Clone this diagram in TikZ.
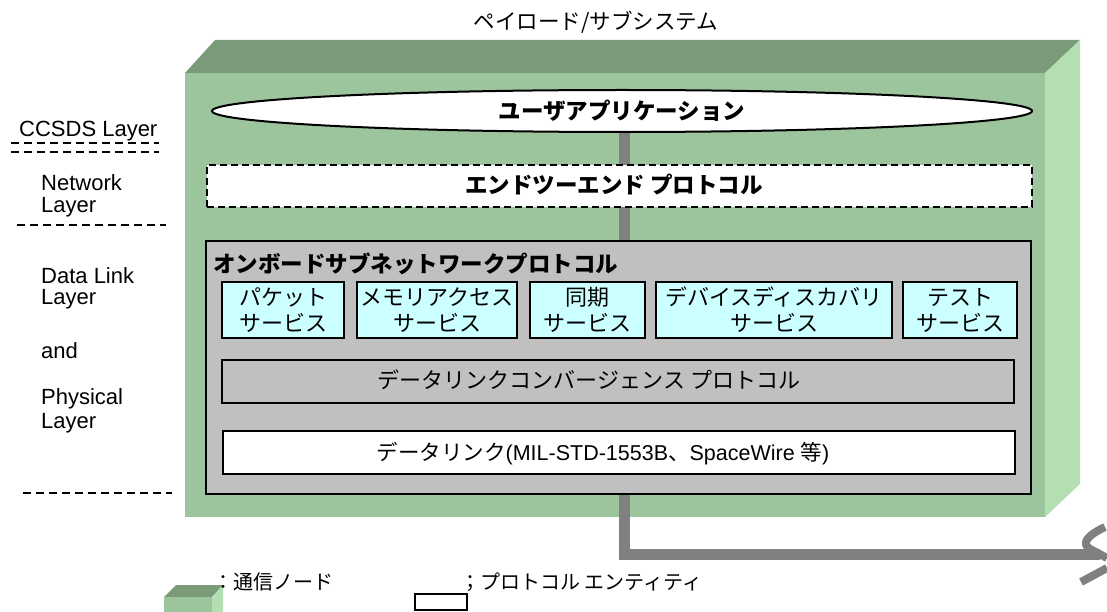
\documentclass[tikz,border=0pt]{standalone}
\usepackage{fontspec}
\setmainfont{Noto Sans CJK JP}
\newfontfamily\lat{Liberation Sans}
\usetikzlibrary{shapes.geometric}
\definecolor{gtop}{HTML}{7A9A7A}
\definecolor{gfront}{HTML}{9DC59D}
\definecolor{gside}{HTML}{B3DFB3}
\definecolor{gbox}{HTML}{C0C0C0}
\definecolor{svc}{HTML}{CCFFFF}
\definecolor{wire}{HTML}{808080}
\tikzset{
  jtext/.style={inner sep=0pt, font=\fontsize{22}{26}\selectfont},
  jbold/.style={inner sep=0pt, font=\fontsize{22.5}{26}\selectfont\bfseries},
  ltext/.style={inner sep=0pt, anchor=west, font=\lat\fontsize{22}{24}\selectfont},
  svcbox/.style={draw=black, line width=2pt, fill=svc, minimum height=56pt, inner sep=0pt,
     align=center, font=\fontsize{22}{26}\selectfont},
  protobox/.style={draw=black, line width=2pt, minimum height=43pt, inner sep=0pt},
  layerline/.style={line width=2pt, dash pattern=on 8pt off 5pt},
  wireline/.style={draw=wire, line width=11pt},
}
\begin{document}
\begin{tikzpicture}[x=1pt,y=-1pt]
\useasboundingbox (0,0) rectangle (1107,612);
% title
\node[inner sep=0pt, font=\fontsize{21.5}{24}\selectfont] (title) at (596,22) {ペイロード/サブシステム};
% communication node block
\fill[gtop] (185,73) -- (215,40) -- (1080,40) -- (1045,73) -- cycle;
\fill[gside] (1045,73) -- (1080,40) -- (1080,484) -- (1045,517) -- cycle;
\fill[gfront] (185,73) rectangle (1045,517);
% wire
\coordinate (wtop) at (624,120);
\coordinate (wcorner) at (624,554);
\coordinate (wend) at (1100,554);
\draw[wireline] (wtop) -- (wcorner) -- (wend);
\draw[draw=wire, line width=8pt, line join=round] (1105,527) .. controls (1088,535) and (1079,544) .. (1092,550) -- (1107,558);
\draw[draw=wire, line width=8pt] (1107,568) -- (1081,582);
% user application
\node[draw=black, line width=2pt, fill=white, ellipse, minimum width=820pt, minimum height=42pt, inner sep=0pt] (app) at (622,111) {};
\node[jbold] (apptext) at (622,111) {ユーザアプリケーション};
% end-to-end
\node[draw=black, line width=1.6pt, dash pattern=on 7pt off 4pt, fill=white, minimum width=825pt, minimum height=42pt, inner sep=0pt] (e2e) at (619.5,186) {};
\node[jbold] (e2etext) at (614,185) {エンドツーエンド プロトコル};
% onboard subnetwork
\node[draw=black, line width=2pt, fill=gbox, minimum width=825pt, minimum height=253pt, inner sep=0pt] (osp) at (618.5,367.5) {};
\node[jbold, anchor=west] (osptext) at (213,264) {オンボードサブネットワークプロトコル};
% services
\node[svcbox, minimum width=122pt] (s1) at (283,310) {パケット\\サービス};
\node[svcbox, minimum width=160pt] (s2) at (437,310) {メモリアクセス\\サービス};
\node[svcbox, minimum width=115pt] (s3) at (587.5,310) {同期\\サービス};
\node[svcbox, minimum width=236pt] (s4) at (774,310) {デバイスディスカバリ\\サービス};
\node[svcbox, minimum width=114pt] (s5) at (960,310) {テスト\\サービス};
% convergence
\node[protobox, fill=gbox, minimum width=792pt] (dlc) at (618,381.5) {};
\node[jtext] (dlctext) at (589,380) {データリンクコンバージェンス プロトコル};
% data link
\node[protobox, fill=white, minimum width=792pt] (dl) at (618.5,452.5) {};
\node[inner sep=0pt, font=\fontsize{21.5}{24}\selectfont] (dltext) at (603,454) {データリンク{\lat (MIL-STD-1553B}、{\lat SpaceWire }等{\lat )}};
% left labels
\node[ltext] (ccsds) at (19,131) {CCSDS Layer};
\draw[layerline] (11,143) -- (159,143);
\draw[layerline] (11,152) -- (159,152);
\node[ltext] (net1) at (41,183) {Network};
\node[ltext] (net2) at (41,207) {Layer};
\draw[layerline] (17,225) -- (166,225);
\node[ltext] (dl1) at (41,276) {Data Link};
\node[ltext] (dl2) at (41,299) {Layer};
\node[ltext] (and) at (41,351) {and};
\node[ltext] (ph1) at (41,399) {Physical};
\node[ltext] (ph2) at (41,423) {Layer};
\draw[layerline] (23,493) -- (172,493);
% legend
\fill[gtop] (164,597) -- (176,585) -- (223,585) -- (212,597) -- cycle;
\fill[gside] (212,597) -- (223,585) -- (223,612) -- (212,612) -- cycle;
\fill[gfront] (164,597) rectangle (212,612);
\node[inner sep=0pt, anchor=west, font=\fontsize{20}{24}\selectfont] (leg1) at (213,582) {：通信ノード};
\node[draw=black, line width=2pt, fill=white, minimum width=52pt, minimum height=16pt, inner sep=0pt] (legbox) at (441,602) {};
\node[inner sep=0pt, anchor=west, font=\fontsize{20}{24}\selectfont] (leg2) at (460,582) {；プロトコル エンティティ};
\end{tikzpicture}
\end{document}
